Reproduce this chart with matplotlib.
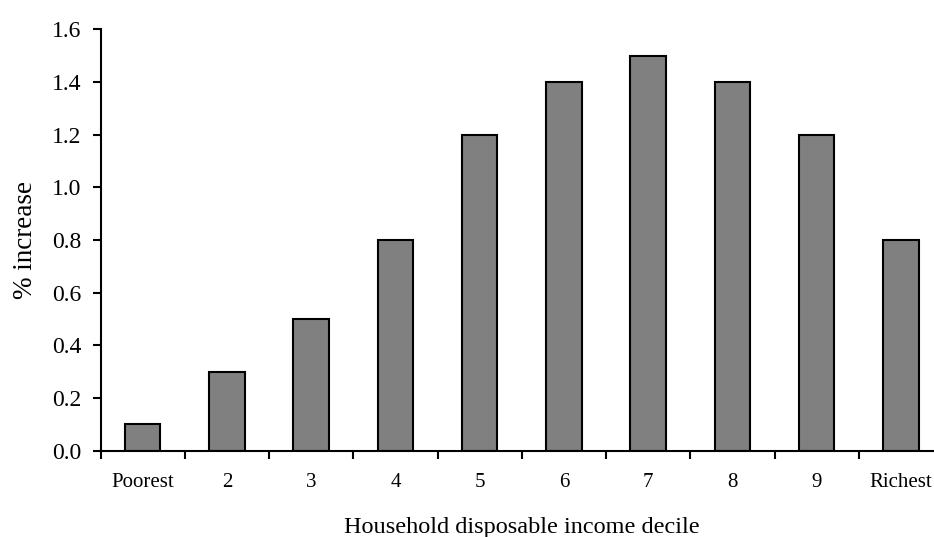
import numpy as np
import matplotlib
matplotlib.use("Agg")
from matplotlib import pyplot as plt
from matplotlib.ticker import FixedLocator, MultipleLocator

deciles = ["Poorest", "2", "3", "4", "5", "6", "7", "8", "9", "Richest"]
increase = [0.1, 0.3, 0.5, 0.8, 1.2, 1.4, 1.5, 1.4, 1.2, 0.8]

plt.rcParams["font.family"] = ["Liberation Serif", "DejaVu Serif"]

fig = plt.figure(figsize=(9.34, 5.37), dpi=100)
ax = fig.add_axes([100.5 / 934, 86.3 / 537, 842.5 / 934, 421.4 / 537])

x = np.arange(len(deciles))
ax.bar(x, increase, width=0.42, color="#808080", edgecolor="black", linewidth=1.5)

ax.set_xlim(-0.5, len(deciles) - 0.5)
ax.set_ylim(0, 1.6)
ax.yaxis.set_major_locator(MultipleLocator(0.2))
ax.set_yticklabels([f"{v:.1f}" for v in ax.get_yticks()])

# labels at centers, tick marks at category boundaries
ax.set_xticks(x)
ax.set_xticklabels(deciles, fontsize=15)
ax.xaxis.set_minor_locator(FixedLocator(np.arange(-0.5, len(deciles), 1.0)))
ax.tick_params(axis="x", which="major", length=0, pad=16)
ax.tick_params(axis="x", which="minor", length=6, width=1.5, direction="out")
ax.tick_params(axis="y", length=6, width=1.5, direction="out", labelsize=17, pad=8)

for side in ["top", "right"]:
    ax.spines[side].set_visible(False)
for side in ["left", "bottom"]:
    ax.spines[side].set_linewidth(1.5)

ax.set_ylabel("% increase", fontsize=19.5, labelpad=10)
ax.set_xlabel("Household disposable income decile", fontsize=17.5, labelpad=18)

fig.savefig("out.png", dpi=100)
